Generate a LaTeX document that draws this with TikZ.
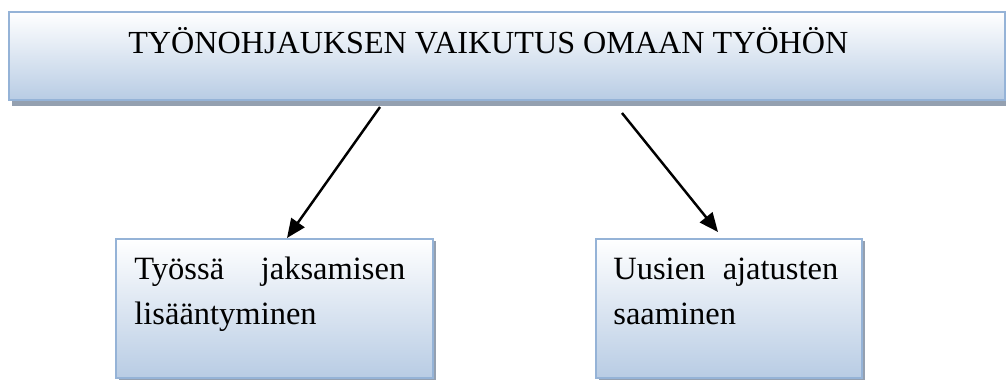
\documentclass[tikz,border=0pt]{standalone}
\usepackage{fontspec}
\setmainfont{Liberation Serif}
\usetikzlibrary{arrows.meta,shadows}
\definecolor{boxblue}{RGB}{184,204,228}
\definecolor{boxline}{RGB}{149,179,215}
\definecolor{boxshadow}{RGB}{148,160,176}

\begin{document}
\begin{tikzpicture}[x=0.02cm,y=-0.02cm,
    gradbox/.style={draw=boxline, line width=1pt, top color=white, bottom color=boxblue,
        anchor=north west, inner sep=0pt, outer sep=0pt},
    boxtext/.style={anchor=base west, inner sep=0pt, font=\fontsize{18.5}{22}\selectfont, align=left},
    arrowline/.style={-{Triangle[length=0.38cm,width=0.32cm]}, line width=1.4pt}]
    \useasboundingbox (0,0) rectangle (1006,379);
    % title box across the top
    \node[gradbox, minimum width=19.92cm, minimum height=1.76cm,
        drop shadow={shadow xshift=0.06cm, shadow yshift=-0.12cm, fill=boxshadow, opacity=1}] (titlebox) at (9,12) {};
    \node[boxtext, font=\fontsize{18.3}{22}\selectfont] (titletext) at (128,53) {TYÖNOHJAUKSEN VAIKUTUS OMAAN TYÖHÖN};
    % two boxes below
    \node[gradbox, minimum width=6.34cm, minimum height=2.78cm,
        drop shadow={shadow xshift=0.06cm, shadow yshift=-0.04cm, fill=boxshadow, opacity=1}] (leftbox) at (116,239) {};
    \node[gradbox, minimum width=5.32cm, minimum height=2.78cm,
        drop shadow={shadow xshift=0.06cm, shadow yshift=-0.04cm, fill=boxshadow, opacity=1}] (rightbox) at (596,239) {};
    \node[boxtext, text width=5.42cm] (lefttext) at (134,279) {Työssä\hfill jaksamisen\\[4pt]lisääntyminen};
    \node[boxtext, text width=4.5cm] (righttext) at (613,279) {Uusien\hfill ajatusten\\[4pt]saaminen};
    % arrows from title to boxes
    \coordinate (lstart) at (380,107);
    \coordinate (lend) at (287,238);
    \coordinate (rstart) at (622,113);
    \coordinate (rend) at (718,232);
    \draw[arrowline] (lstart) -- (lend);
    \draw[arrowline] (rstart) -- (rend);
\end{tikzpicture}
\end{document}
